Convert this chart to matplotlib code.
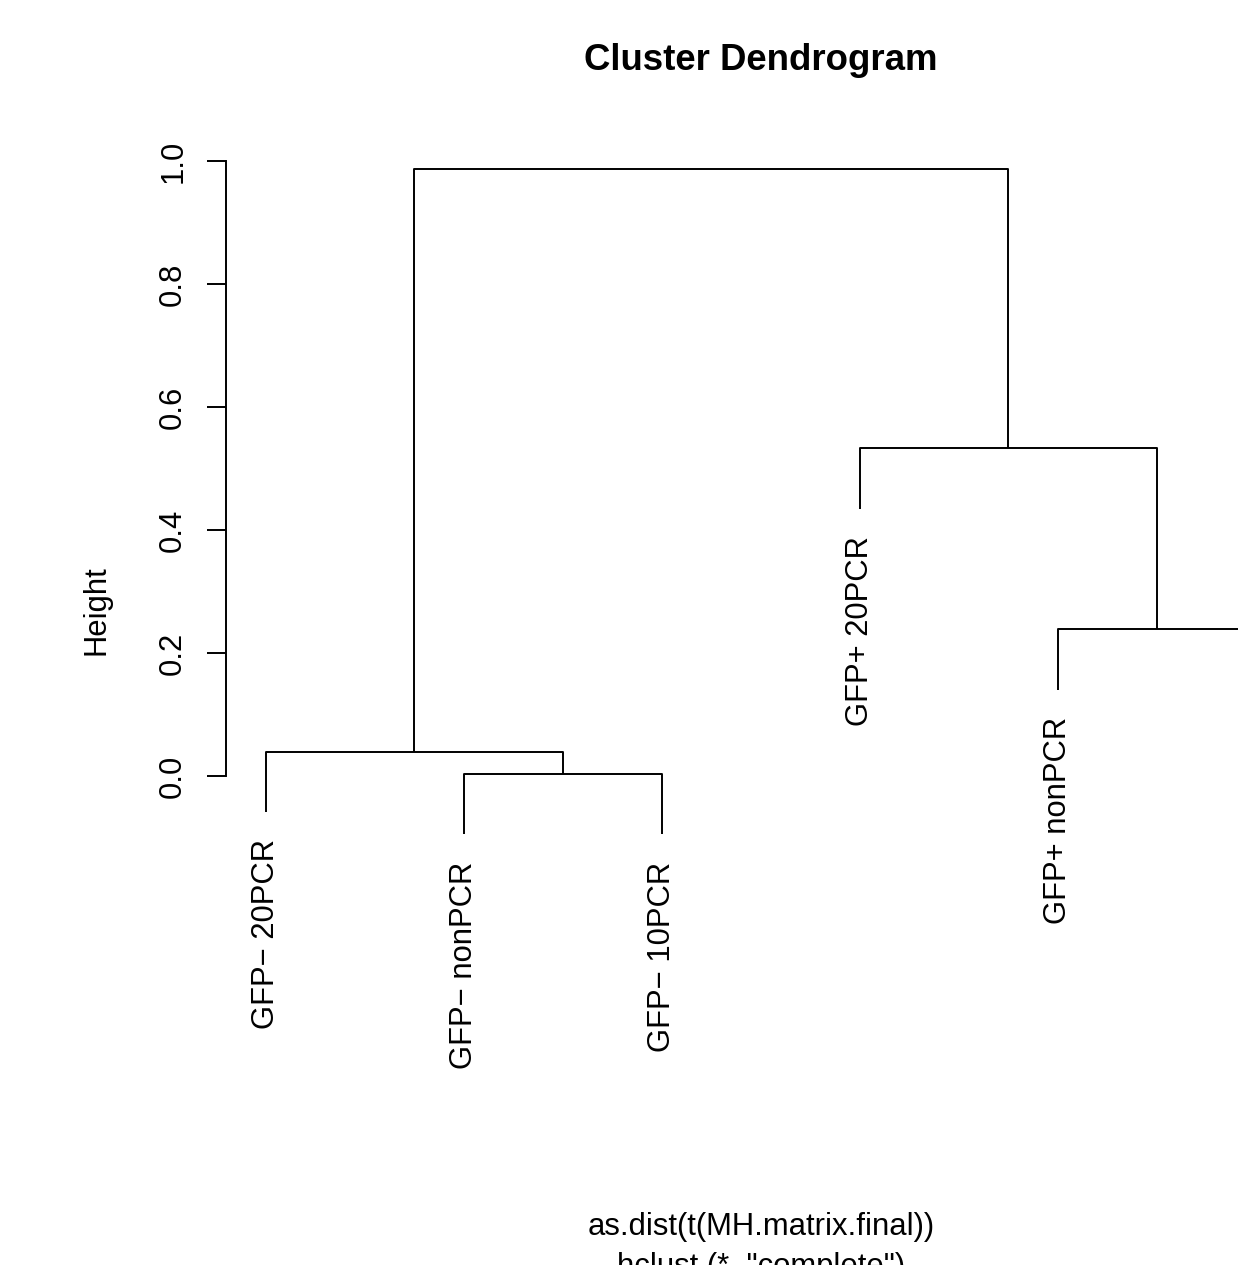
import matplotlib
matplotlib.use("Agg")
import matplotlib.pyplot as plt
import numpy as np

plt.rcParams['font.family'] = ['Liberation Sans', 'DejaVu Sans']

# hclust result (R style merge matrix: negative = leaf, positive = earlier merge)
labels = ["GFP\u2212 20PCR", "GFP\u2212 nonPCR", "GFP\u2212 10PCR",
          "GFP+ 20PCR", "GFP+ nonPCR", "GFP+ 10PCR"]
merge = [(-2, -3), (-1, 1), (-5, -6), (-4, 3), (2, 4)]
heights = [0.0033, 0.0397, 0.2385, 0.5328, 0.9863]
hang = 0.1

title = "Cluster Dendrogram"
xlab = ['as.dist(t(MH.matrix.final))', 'hclust (*, "complete")']
ylab = "Height"
yticks = [0.0, 0.2, 0.4, 0.6, 0.8, 1.0]

# figure / layout in pixels (R device look)
W, H = 1238, 1265
fig = plt.figure(figsize=(W / 100, H / 100), dpi=100)

x_left_px, x_right_px = 226.4, 1295.6      # x = 0.8 .. 6.2
y0_px, y1_px = 776.0, 161.0                # y = 0 .. 1
ylim = (-0.3, 1.04)
def ypix(v):
    return y0_px + (y1_px - y0_px) * v
ax = fig.add_axes([x_left_px / W, 1 - ypix(ylim[0]) / H,
                   (x_right_px - x_left_px) / W,
                   (ypix(ylim[0]) - ypix(ylim[1])) / H])
ax.set_xlim(0.8, 6.2)
ax.set_ylim(*ylim)

lw = 1.4
fs = 22.3
hang_h = hang * (max(heights) - min(heights))

# positions of each node
pos = {}
for i, (a, b) in enumerate(merge, start=1):
    xs, ys = [], []
    for c in (a, b):
        if c < 0:
            xs.append(-c)
            ys.append(heights[i - 1] - hang_h)
        else:
            xs.append(pos[c][0])
            ys.append(heights[c - 1])
    h = heights[i - 1]
    ax.plot([xs[0], xs[0], xs[1], xs[1]], [ys[0], h, h, ys[1]],
            color='black', lw=lw, solid_capstyle='butt', clip_on=False)
    pos[i] = ((xs[0] + xs[1]) / 2, h)
    for c, x, y in zip((a, b), xs, ys):
        if c < 0:
            ax.annotate(labels[-c - 1], (x, y), xytext=(0, -19.5),
                        textcoords='offset points', rotation=90,
                        ha='center', va='top', fontsize=fs)

for s in ('top', 'right', 'bottom'):
    ax.spines[s].set_visible(False)
ax.spines['left'].set_bounds(0, 1)
ax.spines['left'].set_linewidth(lw)
ax.set_xticks([])
ax.set_yticks(yticks)
ax.set_yticklabels([f"{t:.1f}" for t in yticks], fontsize=fs)
ax.tick_params(axis='y', length=14, width=lw, pad=13.5)
for t in ax.get_yticklabels():
    t.set_rotation(90)
    t.set_va('center')

fig.text(97 / W, 1 - 610 / H, ylab, rotation=90, ha='center', va='center',
         fontsize=fs)
fig.text(761 / W, 1 - 70 / H, title, ha='center', va='baseline',
         fontsize=26.4, fontweight='bold')
fig.text(761 / W, 1 - 1235 / H, xlab[0], ha='center', va='baseline',
         fontsize=fs)
fig.text(761 / W, 1 - 1275 / H, xlab[1], ha='center', va='baseline',
         fontsize=fs)

fig.savefig("out.png", dpi=100)
